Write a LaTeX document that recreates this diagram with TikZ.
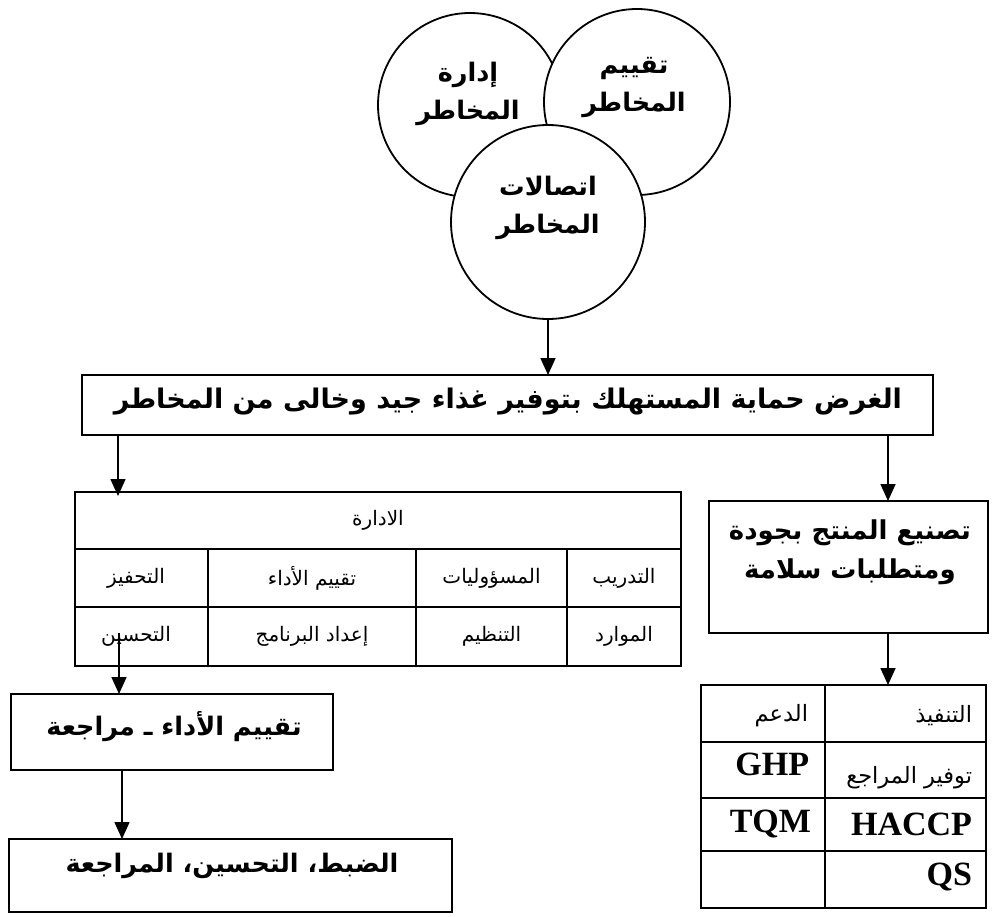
\documentclass[tikz,border=0pt]{standalone}
\usepackage{fontspec}
\usetikzlibrary{arrows.meta}
\TeXXeTstate=1
\newfontfamily\arabicfont[Script=Arabic]{DejaVu Sans}
\newfontfamily\latinserif{Liberation Serif}

\tikzset{
  x=1pt, y=-1pt,
  every node/.style={inner sep=0pt, outer sep=0pt},
  bubble/.style={circle, draw, line width=1.8pt, fill=white},
  frame/.style={draw, rectangle, line width=2pt},
  tableframe/.style={draw, rectangle, line width=2.4pt},
  rule/.style={line width=2.4pt},
  flow/.style={line width=1.6pt, -{Triangle[length=17pt,width=15pt]}},
  headtxt/.style={font=\arabicfont\bfseries\fontsize{25.5}{38}\selectfont, align=center},
  celltxt/.style={font=\arabicfont\fontsize{20}{22}\selectfont},
  toolarab/.style={font=\arabicfont\fontsize{22.5}{24}\selectfont},
  latintxt/.style={font=\latinserif\bfseries\fontsize{34}{36}\selectfont},
}

\begin{document}
\begin{tikzpicture}
\useasboundingbox (0,0) rectangle (992,916);

% three overlapping risk circles
\node[bubble, minimum size=184pt] (mgmtc) at (470,105) {};
\node[bubble, minimum size=186pt] (assessc) at (637,102) {};
\node[bubble, minimum size=194pt] (commc) at (548,222) {};
\node[headtxt] (mgmtt) at (468,94) {\beginR إدارة\endR\\\beginR المخاطر\endR};
\node[headtxt] (assesst) at (634,88) {\beginR تقييم\endR\\\beginR المخاطر\endR};
\node[headtxt] (commt) at (548,208) {\beginR اتصالات\endR\\\beginR المخاطر\endR};

% boxes
\node[frame, minimum width=851pt, minimum height=60pt] (purpose) at (507.5,405) {};
\node[headtxt, font=\arabicfont\bfseries\fontsize{27}{38}\selectfont] (purposet) at (508,402) {\beginR الغرض حماية المستهلك بتوفير غذاء جيد وخالى من المخاطر\endR};

\node[frame, minimum width=279pt, minimum height=132pt] (prod) at (848.5,567) {};
\node[headtxt, font=\arabicfont\bfseries\fontsize{26}{39}\selectfont] (prodt) at (850,552) {\beginR تصنيع المنتج بجودة\endR\\\beginR ومتطلبات سلامة\endR};

\node[frame, minimum width=322pt, minimum height=76pt] (review) at (172,732) {};
\node[headtxt] (reviewt) at (174,727) {\beginR تقييم الأداء ـ مراجعة\endR};

\node[frame, minimum width=443pt, minimum height=73pt] (control) at (230.5,875.5) {};
\node[headtxt] (controlt) at (232,866) {\beginR الضبط، التحسين، المراجعة\endR};

% management table
\node[tableframe, minimum width=606pt, minimum height=174pt] (mtable) at (378,579) {};
\draw[rule] (75,549) -- (681,549);
\draw[rule] (75,607) -- (681,607);
\draw[rule] (208,549) -- (208,666);
\draw[rule] (416,549) -- (416,666);
\draw[rule] (567,549) -- (567,666);
\node[celltxt] (m0) at (378,520) {\beginR الادارة\endR};
\node[celltxt] (m1) at (136,578) {\beginR التحفيز\endR};
\node[celltxt] (m2) at (312,578) {\beginR تقييم الأداء\endR};
\node[celltxt] (m3) at (491.5,578) {\beginR المسؤوليات\endR};
\node[celltxt] (m4) at (624,578) {\beginR التدريب\endR};
\node[celltxt] (m5) at (136,636) {\beginR التحسين\endR};
\node[celltxt] (m6) at (312,636) {\beginR إعداد البرنامج\endR};
\node[celltxt] (m7) at (491.5,636) {\beginR التنظيم\endR};
\node[celltxt] (m8) at (624,636) {\beginR الموارد\endR};

% tools table
\node[tableframe, minimum width=285pt, minimum height=223pt] (ttable) at (843.5,796.5) {};
\draw[rule] (825,685) -- (825,908);
\draw[rule] (701,742) -- (986,742);
\draw[rule] (701,798) -- (986,798);
\draw[rule] (701,851) -- (986,851);
\node[toolarab, anchor=east] (t1) at (972,716) {\beginR التنفيذ\endR};
\node[toolarab, anchor=east] (t2) at (808,716) {\beginR الدعم\endR};
\node[toolarab, anchor=east] (t3) at (972,778) {\beginR توفير المراجع\endR};
\node[latintxt, anchor=east] (t4) at (809,764) {GHP};
\node[latintxt, anchor=east] (t5) at (972,824) {HACCP};
\node[latintxt, anchor=east] (t6) at (811,824) {TQM};
\node[latintxt, anchor=east] (t7) at (972,877) {QS};

% connectors
\coordinate (leftdrop) at (118,0);
\coordinate (rightdrop) at (888,0);
\coordinate (cellstart) at (119,633);
\coordinate (reviewdrop) at (122,0);
\draw[flow] (commc.south) -- (commc.south |- purpose.north);
\draw[flow] (purpose.south -| leftdrop) -- ([yshift=-4pt]mtable.north -| leftdrop);
\draw[flow] (purpose.south -| rightdrop) -- (prod.north -| rightdrop);
\draw[flow] (prod.south -| rightdrop) -- (ttable.north -| rightdrop);
\draw[flow] (cellstart) -- (review.north -| cellstart);
\draw[flow] (review.south -| reviewdrop) -- (control.north -| reviewdrop);
\end{tikzpicture}
\end{document}
